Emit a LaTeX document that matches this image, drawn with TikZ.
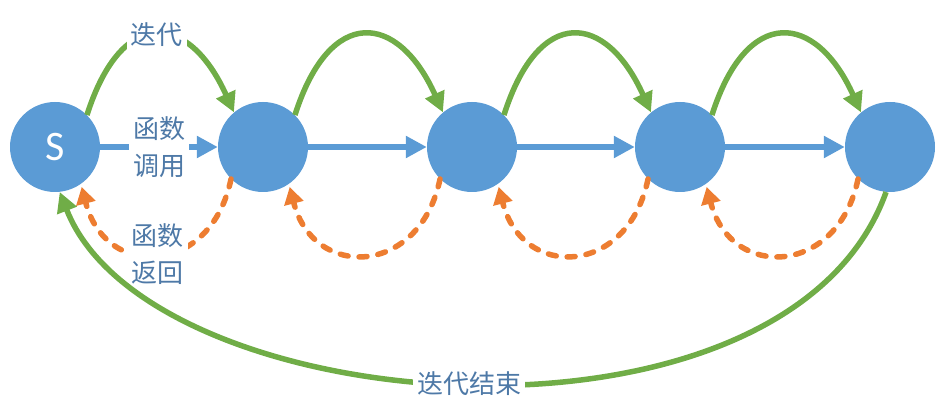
\documentclass[tikz,border=0pt]{standalone}
\usepackage{fontspec}
\usepackage{tikz}
\usepackage{xcolor}
\usetikzlibrary{arrows.meta}
\setsansfont{Carlito}
\newfontfamily\cjk{Noto Sans CJK SC}
\definecolor{stateblue}{HTML}{5B9BD5}
\definecolor{itergreen}{HTML}{70AD47}
\definecolor{retorange}{HTML}{ED7D31}
\definecolor{labelblue}{HTML}{4E79A7}
\tikzset{
    state-node/.style = {circle, fill=stateblue, minimum size=90pt, inner sep=0pt, text=white, font=\sffamily\fontsize{42}{44}\selectfont},
    label-text/.style = {fill=white, text=labelblue, align=center, inner sep=4pt, font=\cjk\fontsize{26}{37}\selectfont},
    call-arrow/.style = {draw=stateblue, line width=6.5pt, -{Triangle[length=21pt,width=21pt]}},
    iter-arrow/.style = {draw=itergreen, line width=5.5pt, -{Triangle[length=20pt,width=20pt]}},
    return-arrow/.style = {draw=retorange, line width=5.5pt, line cap=round, dash pattern=on 8pt off 11pt, -{Triangle[length=17pt,width=19pt]}, shorten >=3pt},
}
\begin{document}
\begin{tikzpicture}[x=1pt,y=1pt]
\useasboundingbox (0,0) rectangle (948,407);
% states
\node [state-node] (s) at (55,260) {S};
\node [state-node] (n1) at (263,260) {};
\node [state-node] (n2) at (472,260) {};
\node [state-node] (n3) at (680,260) {};
\node [state-node] (n4) at (890,260) {};
% function calls
\draw [call-arrow] (s) -- node[label-text]{函数\\调用} (n1);
\draw [call-arrow] (n1) -- (n2);
\draw [call-arrow] (n2) -- (n3);
\draw [call-arrow] (n3) -- (n4);
% iterations
\draw [iter-arrow] (s.45) .. controls +(35,110) and +(-45,100) .. node[label-text, pos=0.5]{迭代} (n1.130);
\draw [iter-arrow] (n1.45) .. controls +(35,110) and +(-45,100) .. (n2.130);
\draw [iter-arrow] (n2.45) .. controls +(35,110) and +(-45,100) .. (n3.130);
\draw [iter-arrow] (n3.45) .. controls +(35,110) and +(-45,100) .. (n4.130);
% function returns
\draw [return-arrow] (n1.225) .. controls +(-20,-97) and +(25,-97) .. node[label-text, pos=0.5]{函数\\返回} (s.-55);
\draw [return-arrow] (n2.225) .. controls +(-20,-97) and +(25,-97) .. (n1.-55);
\draw [return-arrow] (n3.225) .. controls +(-20,-97) and +(25,-97) .. (n2.-55);
\draw [return-arrow] (n4.225) .. controls +(-20,-97) and +(25,-97) .. (n3.-55);
% end of iteration
\draw [iter-arrow] (n4.265) .. controls +(-100,-280) and +(90,-230) .. node[label-text, pos=0.5]{迭代结束} (s.-84);
\end{tikzpicture}
\end{document}
